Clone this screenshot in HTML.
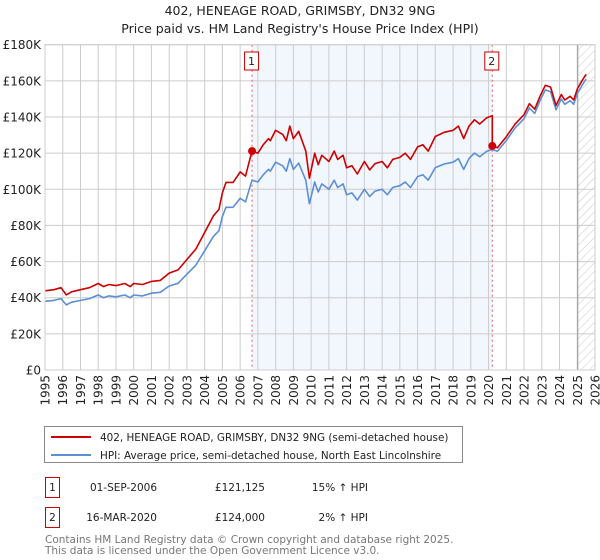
<!DOCTYPE html>
<html><head><meta charset="utf-8"><style>
body{margin:0;background:#fff;}
svg{display:block;font-family:"DejaVu Sans","Liberation Sans",sans-serif;}
</style></head><body>
<svg id="chart" width="600" height="560" viewBox="0 0 600 560" xmlns="http://www.w3.org/2000/svg">
<defs>
<pattern id="hatch" patternUnits="userSpaceOnUse" width="6" height="6" patternTransform="rotate(45)">
<line x1="0" y1="0" x2="0" y2="6" stroke="#bbb" stroke-width="0.8"/>
</pattern>
</defs>
<text x="300" y="15" text-anchor="middle" font-size="12.5" fill="#222">402, HENEAGE ROAD, GRIMSBY, DN32 9NG</text>
<text x="300" y="33" text-anchor="middle" font-size="12.5" fill="#222">Price paid vs. HM Land Registry's House Price Index (HPI)</text>
<g id="plot"></g>
<g id="legend">
<rect x="44.5" y="426.5" width="418" height="36" fill="#fff" stroke="#888"/>
<line x1="51" y1="437" x2="91" y2="437" stroke="#cc0000" stroke-width="2"/>
<text x="100" y="441" font-size="10.4" fill="#222">402, HENEAGE ROAD, GRIMSBY, DN32 9NG (semi-detached house)</text>
<line x1="51" y1="455" x2="91" y2="455" stroke="#5b8fd6" stroke-width="2"/>
<text x="100" y="459" font-size="10.4" fill="#222">HPI: Average price, semi-detached house, North East Lincolnshire</text>
</g>
<g font-size="10.5" fill="#222">
<rect x="45.5" y="477.5" width="14" height="20" fill="#fff" stroke="#cc0000"/>
<text x="52.5" y="491" text-anchor="middle">1</text>
<text x="157" y="491" text-anchor="end">01-SEP-2006</text>
<text x="265" y="491" text-anchor="end">£121,125</text>
<text x="368" y="491" text-anchor="end">15% ↑ HPI</text>
<rect x="45.5" y="507.5" width="14" height="20" fill="#fff" stroke="#cc0000"/>
<text x="52.5" y="521" text-anchor="middle">2</text>
<text x="157" y="521" text-anchor="end">16-MAR-2020</text>
<text x="265" y="521" text-anchor="end">£124,000</text>
<text x="368" y="521" text-anchor="end">2% ↑ HPI</text>
</g>
<text x="45" y="543" font-size="10.5" fill="#777">Contains HM Land Registry data © Crown copyright and database right 2025.</text>
<text x="45" y="554" font-size="10.5" fill="#777">This data is licensed under the Open Government Licence v3.0.</text>
</svg>
<script>
const yearTicks=[1995,1996,1997,1998,1999,2000,2001,2002,2003,2004,2005,2006,2007,2008,2009,2010,2011,2012,2013,2014,2015,2016,2017,2018,2019,2020,2021,2022,2023,2024,2025,2026];
const priceTicks=[0,20000,40000,60000,80000,100000,120000,140000,160000,180000];
const priceTickLabels=["£0","£20K","£40K","£60K","£80K","£100K","£120K","£140K","£160K","£180K"];
const hpiDates=[1995.0,1995.5,1995.9,1996.2,1996.5,1997.0,1997.5,1998.0,1998.3,1998.6,1999.0,1999.5,1999.8,2000.0,2000.5,2001.0,2001.5,2002.0,2002.5,2003.0,2003.5,2004.0,2004.5,2004.8,2005.0,2005.2,2005.6,2006.0,2006.3,2006.67,2007.0,2007.3,2007.6,2007.7,2008.0,2008.4,2008.6,2008.8,2009.0,2009.3,2009.7,2009.9,2010.2,2010.4,2010.6,2011.0,2011.3,2011.5,2011.8,2012.0,2012.3,2012.6,2013.0,2013.3,2013.6,2014.0,2014.3,2014.6,2015.0,2015.3,2015.6,2016.0,2016.3,2016.6,2017.0,2017.5,2018.0,2018.3,2018.6,2018.9,2019.2,2019.5,2019.9,2020.21,2020.5,2021.0,2021.5,2022.0,2022.3,2022.6,2022.9,2023.2,2023.5,2023.8,2024.1,2024.3,2024.6,2024.8,2025.0,2025.3,2025.5];
const hpiValues=[38000,38500,39500,36000,37500,38500,39500,41500,40000,41000,40500,41500,40000,41500,41000,42500,43000,46500,48000,53000,58000,66000,74000,77000,85000,90000,90000,95000,93000,105000,104000,108000,111000,110000,115000,113000,110000,117000,111000,114500,105000,92000,104000,98500,103000,100000,105000,101000,103000,97000,98000,94000,100000,96000,99000,100000,97000,101000,102000,104000,101000,107000,108000,105000,112000,114000,115000,117000,111000,117000,120000,118000,121000,122000,121000,127000,134000,139000,145000,142000,149000,155000,154000,144000,150000,147000,149000,147000,153000,158000,161000];
const saleDates=[2006.67,2020.21];
const salePrices=[121125,124000];
const saleLabels=["1","2"];

const L=45,R=595,T=44.7,B=370;
const xMin=1995,xMax=2026,yMax=180000;
const sx=v=>L+(v-xMin)/(xMax-xMin)*(R-L);
const sy=v=>B-v/yMax*(B-T);
const NS="http://www.w3.org/2000/svg";
const plot=document.getElementById('plot');
function mk(tag,attrs,parent){const e=document.createElementNS(NS,tag);for(const k in attrs)e.setAttribute(k,attrs[k]);(parent||plot).appendChild(e);return e;}
function hpiAt(t){for(let i=0;i<hpiDates.length-1;i++){if(t>=hpiDates[i]&&t<=hpiDates[i+1]){const f=(t-hpiDates[i])/(hpiDates[i+1]-hpiDates[i]);return hpiValues[i]+f*(hpiValues[i+1]-hpiValues[i]);}}return hpiValues[hpiValues.length-1];}

const span=mk('rect',{x:sx(saleDates[0]),y:T,width:sx(saleDates[1])-sx(saleDates[0]),height:B-T,fill:'#eef3fc',opacity:0.75});


const hatch=mk('rect',{x:sx(2025.03),y:T,width:R-sx(2025.03),height:B-T,fill:'url(#hatch)'});



yearTicks.forEach(y=>{const g=mk('line',{x1:sx(y),x2:sx(y),y1:T,y2:B,stroke:'#ccc','stroke-width':1});

});
priceTicks.forEach(p=>{const g=mk('line',{x1:L,x2:R,y1:sy(p),y2:sy(p),stroke:'#ccc','stroke-width':1});

});
const vl=mk('line',{x1:sx(2025.03),x2:sx(2025.03),y1:T,y2:B,stroke:'#999','stroke-width':1});



priceTicks.forEach((p,i)=>{const t=mk('text',{x:L-4,y:sy(p)+4.5,'text-anchor':'end','font-size':12,fill:'#222'});t.textContent=priceTickLabels[i];

});
yearTicks.forEach(y=>{const t=mk('text',{x:0,y:0,'text-anchor':'end','font-size':12,fill:'#222',transform:`translate(${sx(y)+4.5},${B+5}) rotate(-90)`});t.textContent=y;

});

saleDates.forEach((d,i)=>{const l=mk('line',{x1:sx(d),x2:sx(d),y1:T,y2:B,stroke:'#e06060','stroke-width':1,'stroke-dasharray':'2,3'});


const bx=mk('rect',{x:sx(d)-7.5,y:52,width:14,height:18,fill:'#fff',stroke:'#cc0000'});


const tx=mk('text',{x:sx(d)-0.5,y:65,'text-anchor':'middle','font-size':11,fill:'#222'});tx.textContent=saleLabels[i];

});

const hp=hpiDates.map((d,i)=>`${sx(d).toFixed(1)},${sy(hpiValues[i]).toFixed(1)}`).join(' ');
const hl=mk('polyline',{points:hp,fill:'none',stroke:'#5b8fd6','stroke-width':1.6,'stroke-linejoin':'round'});



const f1=salePrices[0]/hpiAt(saleDates[0]);
const f2=salePrices[1]/hpiAt(saleDates[1]);
const pts=[];
hpiDates.forEach((d,i)=>{if(d<saleDates[1])pts.push([d,hpiValues[i]*f1]);});
pts.push([saleDates[1],hpiAt(saleDates[1])*f1]);
pts.push([saleDates[1],salePrices[1]]);
hpiDates.forEach((d,i)=>{if(d>saleDates[1])pts.push([d,hpiValues[i]*f2]);});
const pl=mk('polyline',{points:pts.map(p=>`${sx(p[0]).toFixed(1)},${sy(p[1]).toFixed(1)}`).join(' '),fill:'none',stroke:'#cc0000','stroke-width':1.6,'stroke-linejoin':'round'});



saleDates.forEach((d,i)=>{const c=mk('circle',{cx:sx(d),cy:sy(salePrices[i]),r:4,fill:'#cc0000'});

});

const fr=mk('rect',{x:L,y:T,width:R-L,height:B-T,fill:'none',stroke:'#ccc'});


</script>
</body></html>
